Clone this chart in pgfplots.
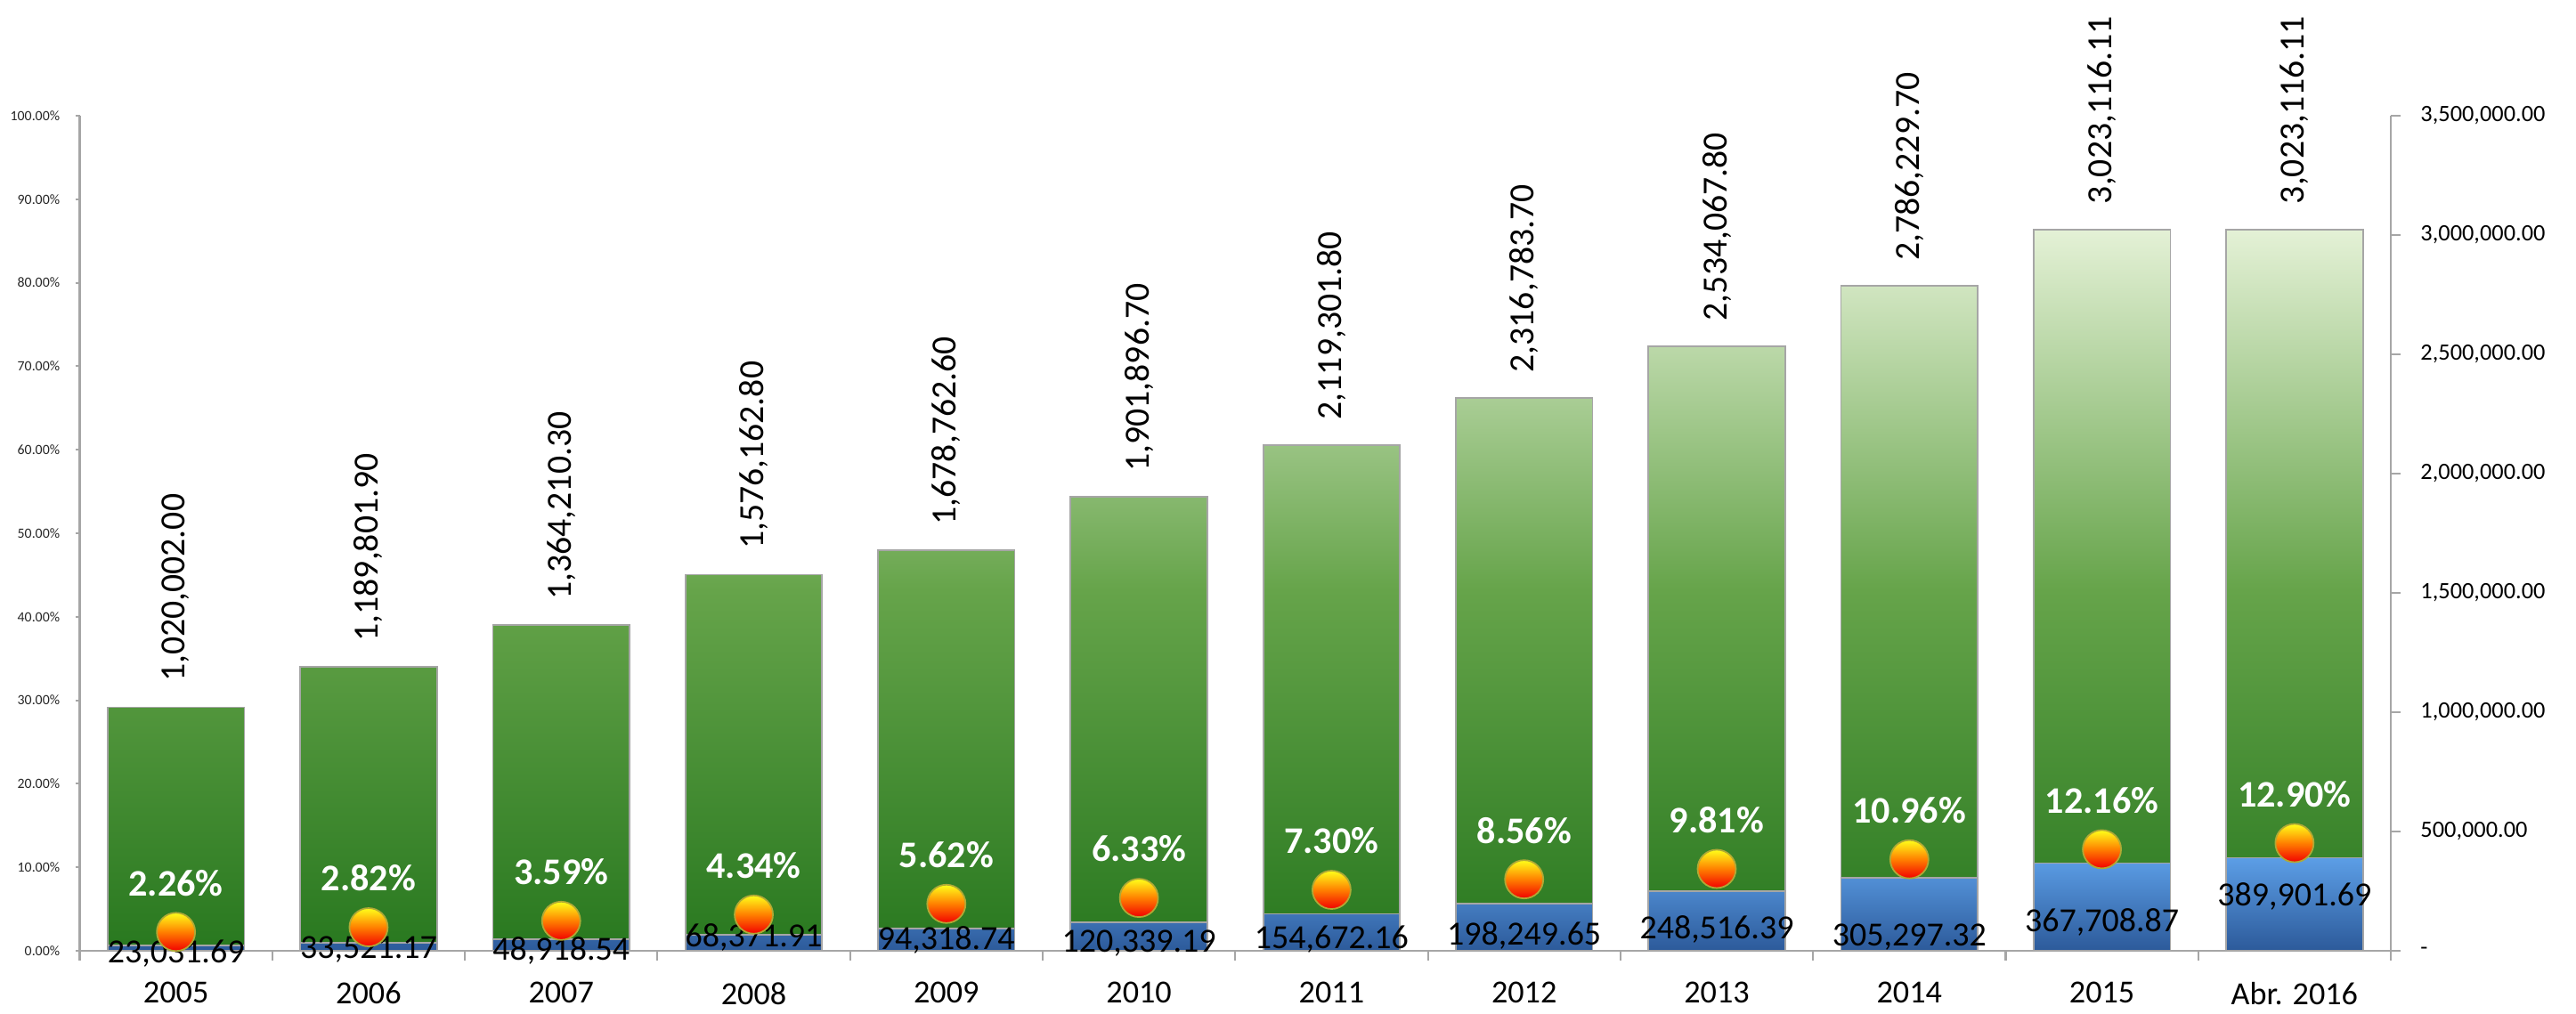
\documentclass[border=0pt]{standalone}
\usepackage{fontspec}
\setmainfont{Carlito}
\usepackage{pgfplots}
\usepackage{pgfplotstable}
\pgfplotsset{compat=1.18}
\usetikzlibrary{calc}

\definecolor{gtop}{HTML}{E4F1D6}
\definecolor{gmid}{HTML}{66A44A}
\definecolor{gbot}{HTML}{28781F}
\definecolor{btop}{HTML}{5C9EE6}
\definecolor{bbot}{HTML}{2C5A9A}
\definecolor{axgray}{HTML}{A6A6A6}

% x: category, tot: total (green), blu: blue bar, ly: baseline of blue label, pct: percentage
\pgfplotstableread{
x tot blu ly pct tlab blab
0 1020002.00 23031.69 -52000 2.26 1,020,002.00 23,031.69
1 1189801.90 33521.17 -33600 2.82 1,189,801.90 33,521.17
2 1364210.30 48918.54 -41000 3.59 1,364,210.30 48,918.54
3 1576162.80 68371.91 14900 4.34 1,576,162.80 68,371.91
4 1678762.60 94318.74 3700 5.62 1,678,762.60 94,318.74
5 1901896.70 120339.19 -7500 6.33 1,901,896.70 120,339.19
6 2119301.80 154672.16 7500 7.30 2,119,301.80 154,672.16
7 2316783.70 198249.65 22400 8.56 2,316,783.70 198,249.65
8 2534067.80 248516.39 48500 9.81 2,534,067.80 248,516.39
9 2786229.70 305297.32 18700 10.96 2,786,229.70 305,297.32
10 3023116.11 367708.87 78400 12.16 3,023,116.11 367,708.87
11 3023116.11 389901.69 190000 12.90 3,023,116.11 389,901.69
}\data

\begin{document}
\begin{tikzpicture}
\begin{axis}[
  name=ax,
  scale only axis,
  width=25.955cm, height=9.38cm,
  xmin=-0.5, xmax=11.5,
  ymin=0, ymax=3500000,
  clip=false,
  axis x line*=bottom,
  axis y line*=right,
  axis line style={draw=axgray, line width=0.6pt},
  tick style={draw=axgray, line width=0.6pt},
  tick align=outside,
  major tick length=0.11cm,
  xtick={-0.5,0.5,...,11.5},
  xticklabels={2005,2006,2007,2008,2009,2010,2011,2012,2013,2014,2015,Abr. 2016},
  x tick label as interval,
  xticklabel style={font=\fontsize{10.3}{12}\selectfont, yshift=-0.12cm},
  ytick={0,500000,...,3500000},
  yticklabels={-,{500,000.00},{1,000,000.00},{1,500,000.00},{2,000,000.00},{2,500,000.00},{3,000,000.00},{3,500,000.00}},
  scaled y ticks=false,
  yticklabel style={font=\fontsize{7.5}{9}\selectfont, xshift=0.1cm},
]
\addplot[ybar, bar width=0.71, bar shift=0pt, draw=black!35, line width=0.5pt,
  top color=gtop, bottom color=gbot, middle color=gmid]
  table[x=x, y=tot]{\data};
\addplot[ybar, bar width=0.71, bar shift=0pt, draw=black!35, line width=0.5pt,
  top color=btop, bottom color=bbot]
  table[x=x, y=blu]{\data};
% total labels, rotated above the bars
\addplot[draw=none, nodes near coords, point meta=explicit symbolic,
  every node near coord/.append style={rotate=90, anchor=west, inner xsep=0.28cm, inner ysep=0pt,
    font=\fontsize{11.3}{13}\selectfont, text=black}]
  table[x=x, y=tot, meta=tlab]{\data};
% blue labels
\addplot[draw=none, nodes near coords, point meta=explicit symbolic,
  every node near coord/.append style={anchor=base, inner sep=0pt,
    font=\fontsize{10.8}{12}\selectfont, text=black}]
  table[x=x, y=ly, meta=blab]{\data};
\end{axis}

\begin{axis}[
  scale only axis,
  width=25.955cm, height=9.38cm,
  xmin=-0.5, xmax=11.5,
  ymin=0, ymax=100,
  clip=false,
  axis x line=none,
  axis y line*=left,
  axis line style={draw=axgray, line width=0.6pt},
  tick style={draw=axgray, line width=0.6pt},
  tick align=outside,
  major tick length=0.05cm,
  ytick={0,10,...,100},
  yticklabel={\pgfmathprintnumber[fixed,fixed zerofill,precision=2,assume math mode=true]{\tick}\%},
  yticklabel style={font=\fontsize{4.5}{6}\selectfont, text=black!85, xshift=-0.05cm},
]
\addplot[draw=none, nodes near coords={}, point meta=y,
  every node near coord/.append style={circle, minimum size=0.43cm, inner sep=0pt, anchor=center,
    top color=yellow!90!white, bottom color=red!95!black, middle color=orange, draw=olive!70, line width=0.5pt}]
  table[x=x, y=pct]{\data};
\addplot[draw=none, point meta=y,
  nodes near coords={\pgfmathprintnumber[fixed,fixed zerofill,precision=2,assume math mode=true]{\pgfplotspointmeta}\%},
  every node near coord/.append style={anchor=center, yshift=0.55cm, text=white,
    font=\bfseries\fontsize{12}{14}\selectfont}]
  table[x=x, y=pct]{\data};
\end{axis}

\pgfresetboundingbox
\path[use as bounding box] ($(ax.south west)+(-0.895cm,-0.71cm)$) rectangle ($(ax.north east)+(2.08cm,1.30cm)$);
\end{tikzpicture}
\end{document}
